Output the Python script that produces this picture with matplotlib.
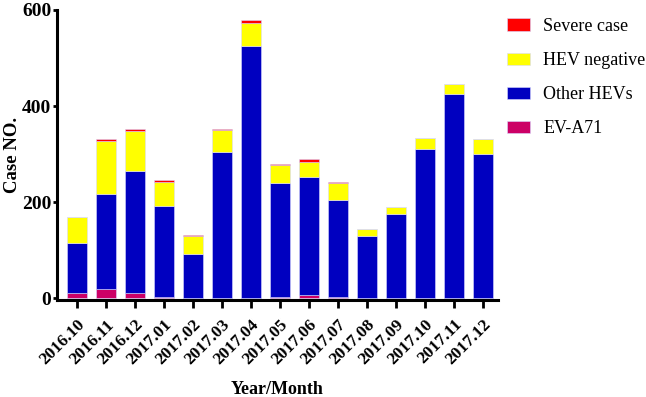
import matplotlib.pyplot as plt
import numpy as np

months = ["2016.10", "2016.11", "2016.12", "2017.01", "2017.02", "2017.03",
          "2017.04", "2017.05", "2017.06", "2017.07", "2017.08", "2017.09",
          "2017.10", "2017.11", "2017.12"]
ev_a71 = [10, 18, 10, 3, 1, 1, 1, 2, 6, 2, 0, 0, 0, 0, 0]
other_hevs = [104, 199, 255, 189, 91, 303, 524, 238, 247, 202, 130, 176, 311, 425, 300]
hev_negative = [54, 111, 83, 50, 38, 46, 48, 38, 31, 35, 14, 13, 23, 20, 32]
severe = [0, 3, 4, 3, 2, 2, 7, 2, 5, 3, 0, 0, 0, 0, 0]

colors = {
    "EV-A71": "#CC0066",
    "Other HEVs": "#0000C0",
    "HEV negative": "#FFFF00",
    "Severe case": "#FF0000",
}

plt.rcParams["font.family"] = ["Liberation Serif", "DejaVu Serif"]

fig = plt.figure(figsize=(6.46, 3.97), dpi=100)
ax = fig.add_axes([57 / 646, 1 - 300 / 397, (498 - 57) / 646, 290 / 397])

x = np.arange(len(months))
width = 0.69
bottom = np.zeros(len(months))
handles = {}
for name, vals in [("EV-A71", ev_a71), ("Other HEVs", other_hevs),
                   ("HEV negative", hev_negative), ("Severe case", severe)]:
    vals = np.asarray(vals, dtype=float)
    handles[name] = ax.bar(x, vals, width, bottom=bottom, color=colors[name],
                           edgecolor="#D8D8FF", linewidth=0.4, label=name)
    bottom += vals

ax.set_xlim(-0.69, 14.52)
ax.set_ylim(-4, 600)
ax.set_yticks([0, 200, 400, 600])
ax.set_xticks(x)
ax.set_xticklabels(months, rotation=45, ha="right", va="top",
                   rotation_mode="anchor", fontweight="bold", fontsize=12.5)
for lbl in ax.get_yticklabels():
    lbl.set_fontweight("bold")
    lbl.set_fontsize(14)
ax.tick_params(axis="x", direction="out", width=2, length=6, pad=6)
ax.tick_params(axis="y", direction="out", width=2, length=3, pad=1)

for side in ("top", "right"):
    ax.spines[side].set_visible(False)
for side in ("left", "bottom"):
    ax.spines[side].set_linewidth(2.2)

ax.set_ylabel("Case NO.", fontsize=13.5, fontweight="bold")
ax.yaxis.set_label_coords(-0.082, 0.5)
ax.set_xlabel("Year/Month", fontsize=13, fontweight="bold")
ax.xaxis.set_label_coords(0.5, -0.28)

order = ["Severe case", "HEV negative", "Other HEVs", "EV-A71"]
fig.legend([handles[k] for k in order], order, loc="upper left",
           bbox_to_anchor=(507 / 646, 1 - 18 / 397), frameon=False,
           fontsize=13, handlelength=1.28, handleheight=0.7,
           handletextpad=0.72, labelspacing=0.95, borderpad=0, borderaxespad=0)

fig.savefig("out.png", dpi=100)
